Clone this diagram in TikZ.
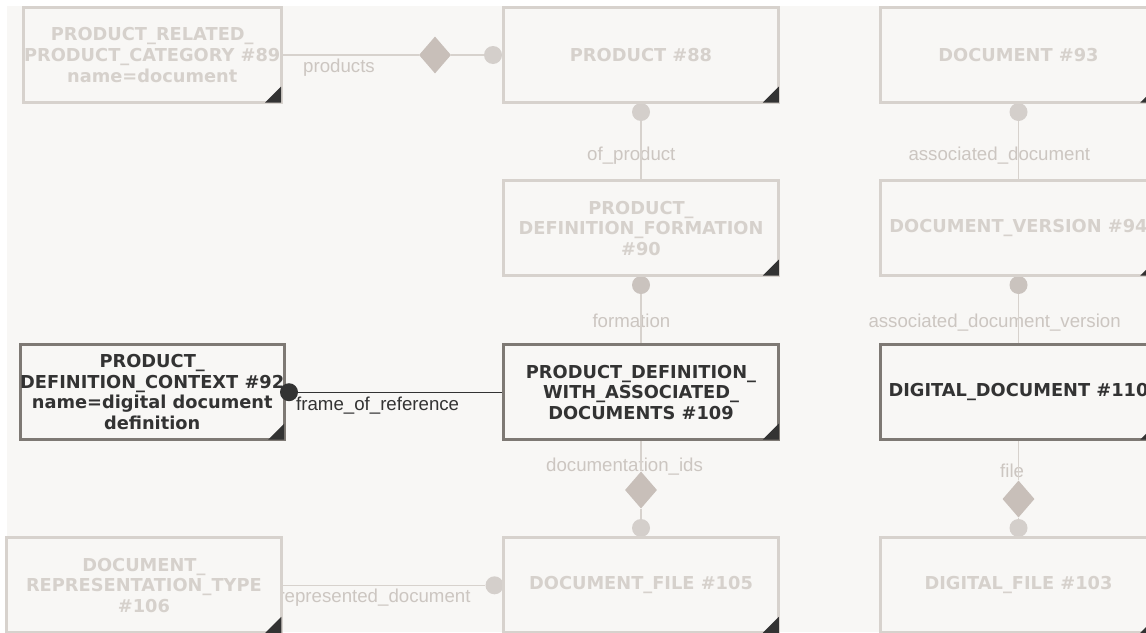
\documentclass[tikz,border=0pt]{standalone}
\usepackage{fontspec}
\setmainfont{DejaVu Sans}
\newfontfamily\lblfont{Liberation Sans}
\usetikzlibrary{shapes.geometric,backgrounds}
\definecolor{bg}{HTML}{F8F7F5}
\definecolor{fadeline}{HTML}{D7D2CD}
\definecolor{fadetext}{HTML}{D6D1CC}
\definecolor{fadelabel}{HTML}{CCC6C1}
\definecolor{actline}{HTML}{7E7974}
\definecolor{darkc}{HTML}{333333}
\definecolor{dmd}{HTML}{C8BFB9}
\definecolor{circA}{HTML}{D4CFCB}
\definecolor{circB}{HTML}{CAC3BE}
\newcommand\entcorner[1]{\fill[darkc] ([shift={(-1.5,-1.5)}]#1.south east) -- ++(-16,0) -- ++(16,-16) -- cycle;}
\begin{document}
\begin{tikzpicture}[x=1pt,y=-1pt,
  ent/.style={rectangle, draw, line width=3pt, fill=bg, align=center, inner sep=0pt,
    minimum height=95pt, font=\bfseries\fontsize{17.8}{20.6}\selectfont},
  faded/.style={ent, draw=fadeline, text=fadetext},
  active/.style={ent, draw=actline, text=darkc},
  wide/.style={minimum width=275.5pt},
  narrow/.style={minimum width=257.7pt},
  lbl/.style={anchor=base west, inner sep=0pt, font=\lblfont\fontsize{18.67}{20}\selectfont},
  flbl/.style={lbl, text=fadelabel},
  albl/.style={lbl, text=darkc},
  fl/.style={draw=fadeline, line width=1.3pt},
  al/.style={draw=darkc, line width=1.3pt},
  dm/.style={diamond, fill=dmd, inner sep=0pt, minimum width=32pt, minimum height=37pt},
  dotA/.style={circle, fill=circA, inner sep=0pt, minimum size=18pt},
  dotB/.style={circle, fill=circB, inner sep=0pt, minimum size=18pt},
  dotK/.style={circle, fill=darkc, inner sep=0pt, minimum size=18pt}
]
\useasboundingbox (0,0) rectangle (1146,632);

% entities
\node[faded, narrow] (prc) at (152.2,55) {PRODUCT\_RELATED\_\\PRODUCT\_CATEGORY \#89\\name=document};
\node[faded, wide] (p88) at (641,55) {PRODUCT \#88};
\node[faded, wide] (d93) at (1018.5,55) {DOCUMENT \#93};
\node[faded, wide] (pdf90) at (641,228.2) {PRODUCT\_\\DEFINITION\_FORMATION\\\#90};
\node[faded, wide] (dv94) at (1018.5,228.2) {DOCUMENT\_VERSION \#94};
\node[active, narrow] (pdc92) at (152.2,392.2) {PRODUCT\_\\DEFINITION\_CONTEXT \#92\\name=digital document\\definition};
\node[active, wide] (pdwad) at (641,392.2) {PRODUCT\_DEFINITION\_\\WITH\_ASSOCIATED\_\\DOCUMENTS \#109};
\node[active, wide] (dd110) at (1018.5,392.2) {DIGITAL\_DOCUMENT \#110};
\node[faded, minimum width=274.8pt] (drt106) at (143.9,585.3) {DOCUMENT\_\\REPRESENTATION\_TYPE\\\#106};
\node[faded, wide] (df105) at (641,585.3) {DOCUMENT\_FILE \#105};
\node[faded, wide] (dfl103) at (1018.5,585.3) {DIGITAL\_FILE \#103};

\foreach \n in {prc,p88,d93,pdf90,dv94,pdc92,pdwad,dd110,drt106,df105,dfl103} {\entcorner{\n}}

\begin{pgfonlayer}{background}
  \fill[bg] (7,6) rectangle (1146,632);
  % labels
  \node[flbl] (lproducts) at (303,72.5) {products};
  \node[flbl] (lofprod) at (587,160) {of\_product};
  \node[flbl] (lform) at (592.3,327.7) {formation};
  \node[flbl] (lassoc) at (908.3,160) {associated\_document};
  \node[flbl] (lassocv) at (868.3,327.7) {associated\_document\_version};
  \node[albl] (lframe) at (296,410) {frame\_of\_reference};
  \node[flbl] (ldoc) at (546,471.7) {documentation\_ids};
  \node[flbl] (lfile) at (1000,477.7) {file};
  \node[flbl] (lrep) at (278.3,602.7) {represented\_document};
  % diamonds and circles
  \node[dm] (dm1) at (435,55) {};
  \node[dm] (dm2) at (641,490) {};
  \node[dm] (dm3) at (1018.5,499) {};
  \node[dotA] (c1) at (493,55) {};
  \node[dotA] (c2) at (641,112) {};
  \node[dotB] (c3) at (641,285) {};
  \node[dotA] (c4) at (641,528) {};
  \node[dotA] (c5) at (494.5,585.3) {};
  \node[dotA] (c7) at (1018.5,112) {};
  \node[dotB] (c8) at (1018.5,285) {};
  \node[dotA] (c9) at (1018.5,528) {};
  % connectors
  \draw[fl] (prc.east) -- (dm1.west);
  \draw[fl] (dm1.east) -- (c1);
  \draw[fl] (c2) -- (pdf90.north);
  \draw[fl] (c3) -- (pdwad.north);
  \draw[fl] (pdwad.south) -- (dm2.north);
  \draw[fl] (dm2.south) -- (c4);
  \draw[fl] (drt106.east) -- (c5);
  \draw[fl] (c7) -- (dv94.north);
  \draw[fl] (c8) -- (dd110.north);
  \draw[fl] (dd110.south) -- (dm3.north);
  \draw[fl] (dm3.south) -- (c9);
\end{pgfonlayer}

\node[dotK] (c6) at (289,392.2) {};
\draw[al] (c6) -- (pdwad.west);
\end{tikzpicture}
\end{document}
